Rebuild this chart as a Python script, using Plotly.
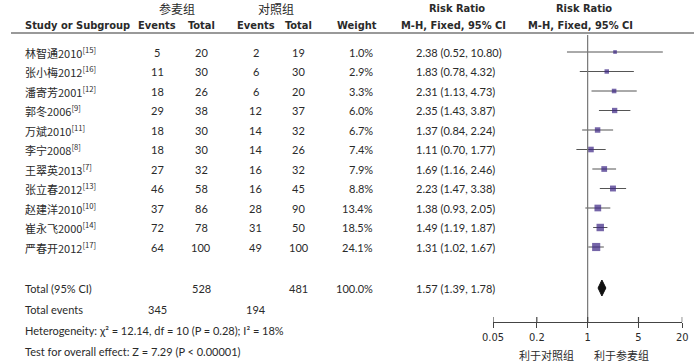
import math
import plotly.graph_objects as go

# ---------------- data ----------------
studies = ["林智通2010", "张小梅2012", "潘寄芳2001", "郭冬2006", "万斌2010", "李宁2008",
           "王翠英2013", "张立春2012", "赵建洋2010", "崔永飞2000", "严春开2012"]
refs = ["15", "16", "12", "9", "11", "8", "7", "13", "10", "14", "17"]
ev1 = [5, 11, 18, 29, 18, 18, 27, 46, 37, 72, 64]
tot1 = [20, 30, 26, 38, 30, 30, 32, 58, 86, 78, 100]
ev2 = [2, 6, 6, 12, 14, 14, 16, 16, 28, 31, 49]
tot2 = [19, 30, 20, 37, 32, 26, 32, 45, 90, 50, 100]
weight = [1.0, 2.9, 3.3, 6.0, 6.7, 7.4, 7.9, 8.8, 13.4, 18.5, 24.1]
rr = [2.38, 1.83, 2.31, 2.35, 1.37, 1.11, 1.69, 2.23, 1.38, 1.49, 1.31]
lo = [0.52, 0.78, 1.13, 1.43, 0.84, 0.70, 1.16, 1.47, 0.93, 1.19, 1.02]
hi = [10.80, 4.32, 4.73, 3.87, 2.24, 1.77, 2.46, 3.38, 2.05, 1.87, 1.67]

total1, total2 = 528, 481
total_ev1, total_ev2 = 345, 194
total_weight = 100.0
total_rr, total_lo, total_hi = 1.57, 1.39, 1.78
heterogeneity = "Heterogeneity: χ² = 12.14, df = 10 (P = 0.28); I² = 18%"
overall = "Test for overall effect: Z = 7.29 (P < 0.00001)"

tick_vals = [0.05, 0.2, 1, 5, 20]
tick_text = ["0.05", "0.2", "1", "5", "20"]
favours_left = "利于对照组"
favours_right = "利于参麦组"
group1 = "参麦组"
group2 = "对照组"

# ---------------- layout helpers ----------------
W, H = 700, 362
row0, step = 52, 19.5
row_y = [row0 + step * i for i in range(len(studies))]
y_total, y_tev, y_het, y_ovr = 288, 309, 330, 351
axis_y = 322

BODY = "Lato, 'Noto Sans', sans-serif"
HEAD = "'Liberation Sans Narrow', 'Arial Narrow', 'DejaVu Sans Condensed', sans-serif"
CJK = "'Noto Sans CJK SC', sans-serif"
TXT = "#2a2a2a"
MARK = "#3a2383"
LINE = "#555555"

fig = go.Figure()

# CI lines + squares
fig.add_trace(go.Scatter(
    x=rr, y=row_y, mode="markers",
    marker=dict(symbol="square", color=MARK,
                size=[2.5 + 1.15 * math.sqrt(w) for w in weight], line=dict(width=0)),
    error_x=dict(type="data", symmetric=False,
                 array=[h - r for h, r in zip(hi, rr)],
                 arrayminus=[r - l for r, l in zip(rr, lo)],
                 color=LINE, thickness=1, width=0),
    hoverinfo="skip", showlegend=False, cliponaxis=False))

# total diamond
fig.add_trace(go.Scatter(
    x=[total_lo, total_rr, total_hi, total_rr, total_lo],
    y=[y_total, y_total - 8, y_total, y_total + 8, y_total],
    mode="lines", fill="toself", fillcolor="#111111",
    line=dict(color="#111111", width=1), hoverinfo="skip", showlegend=False))

fig.update_layout(
    width=W, height=H, margin=dict(l=0, r=0, t=0, b=0),
    paper_bgcolor="white", plot_bgcolor="white",
    xaxis=dict(type="log", range=[math.log10(0.05), math.log10(20)],
               domain=[494 / W, 688 / W], anchor="free", position=(H - axis_y) / H,
               showline=True, linecolor="#444444", linewidth=1.2,
               ticks="outside", ticklen=5, tickwidth=1.2, tickcolor="#444444",
               tickvals=tick_vals, ticktext=tick_text, showgrid=False, zeroline=False,
               tickfont=dict(family=HEAD, size=11, color=TXT)),
    yaxis=dict(range=[H, 0], domain=[0, 1], visible=False, showgrid=False),
)

shapes = []
# header rule
shapes.append(dict(type="line", xref="paper", yref="y", x0=0, x1=1, y0=33, y1=33,
                   line=dict(color="#777777", width=1.5)))
# null line
shapes.append(dict(type="line", xref="x", yref="y", x0=1, x1=1, y0=35, y1=axis_y,
                   line=dict(color="#777777", width=1.2)))
# upward part of ticks
for tv in tick_vals:
    shapes.append(dict(type="line", xref="x", yref="y", x0=tv, x1=tv, y0=axis_y - 5, y1=axis_y,
                       line=dict(color="#444444", width=1.2)))
fig.update_layout(shapes=shapes)

ann = []


def txt(x, y, s, align="center", font=BODY, size=11, bold=False, xref="paper"):
    if bold:
        s = "<b>" + s + "</b>"
    ann.append(dict(x=x / W if xref == "paper" else x, y=y, xref=xref, yref="y", text=s,
                    showarrow=False, xanchor=align, yanchor="middle",
                    font=dict(family=font, size=size, color=TXT)))


# headers
txt(170, 8, group1, font=CJK, size=12)
txt(272, 8, group2, font=CJK, size=12)
txt(457, 8, "Risk Ratio", font=HEAD, size=11, bold=True)
txt(587, 8, "Risk Ratio", font=HEAD, size=11, bold=True)
txt(12, 25, "Study or Subgroup", align="left", font=HEAD, size=11, bold=True)
txt(150, 25, "Events", font=HEAD, size=11, bold=True)
txt(195, 25, "Total", font=HEAD, size=11, bold=True)
txt(251, 25, "Events", font=HEAD, size=11, bold=True)
txt(295, 25, "Total", font=HEAD, size=11, bold=True)
txt(377, 25, "Weight", align="right", font=HEAD, size=11, bold=True)
txt(454, 25, "M-H, Fixed, 95% CI", font=HEAD, size=11, bold=True)
txt(584, 25, "M-H, Fixed, 95% CI", font=HEAD, size=11, bold=True)

# study rows
for i, y in enumerate(row_y):
    txt(12, y, studies[i] + "<sup>[" + refs[i] + "]</sup>", align="left", font=CJK, size=11)
    txt(150, y, str(ev1[i]))
    txt(195, y, str(tot1[i]))
    txt(251, y, str(ev2[i]))
    txt(295, y, str(tot2[i]))
    txt(373, y, f"{weight[i]:.1f}%", align="right")
    txt(413, y, f"{rr[i]:.2f} ({lo[i]:.2f}, {hi[i]:.2f})", align="left")

# totals
txt(12, y_total, "Total (95% CI)", align="left")
txt(195, y_total, str(total1))
txt(295, y_total, str(total2))
txt(373, y_total, f"{total_weight:.1f}%", align="right")
txt(413, y_total, f"{total_rr:.2f} ({total_lo:.2f}, {total_hi:.2f})", align="left")
txt(12, y_tev, "Total events", align="left")
txt(150, y_tev, str(total_ev1))
txt(251, y_tev, str(total_ev2))
txt(12, y_het, heterogeneity, align="left")
txt(12, y_ovr, overall, align="left")

# favours labels (annotation x on a log axis is given in log10 units)
null_pos = math.log10(1)
ann.append(dict(x=null_pos, y=355, xref="x", yref="y", text=favours_left, showarrow=False,
                xanchor="right", yanchor="middle", xshift=-12,
                font=dict(family=CJK, size=11, color=TXT)))
ann.append(dict(x=null_pos, y=355, xref="x", yref="y", text=favours_right, showarrow=False,
                xanchor="left", yanchor="middle", xshift=4,
                font=dict(family=CJK, size=11, color=TXT)))

fig.update_layout(annotations=ann)
fig.write_html("out.html", config={"displayModeBar": False},
               post_script="document.body.style.margin='0';")
